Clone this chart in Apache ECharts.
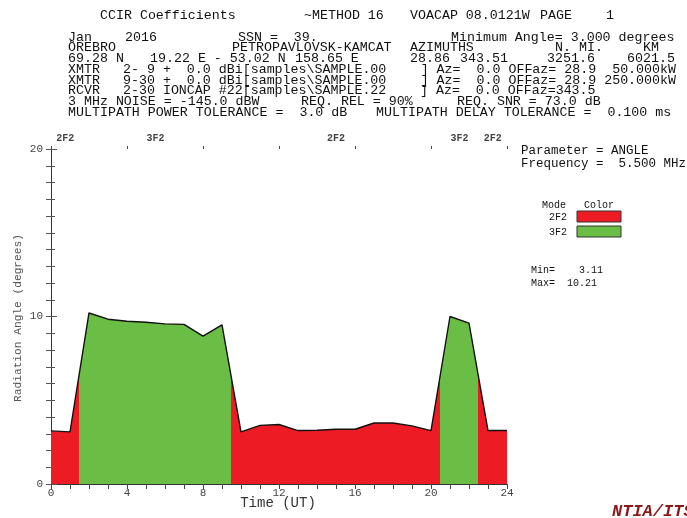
<!DOCTYPE html>
<html>
<head>
<meta charset="utf-8">
<script src="https://cdn.jsdelivr.net/npm/echarts@6/dist/echarts.min.js"></script>
<style>html,body{margin:0;padding:0;background:#fff;}#main{width:687px;height:518px;}</style>
</head>
<body>
<div id="main"></div>
<script>
// ---- data ----
const hours = [0,1,2,3,4,5,6,7,8,9,10,11,12,13,14,15,16,17,18,19,20,21,22,23,24];
const angle = [3.17,3.11,10.21,9.84,9.72,9.66,9.56,9.53,8.83,9.50,3.11,3.50,3.55,3.19,3.21,3.27,3.27,3.64,3.64,3.47,3.19,10.00,9.60,3.19,3.19];
const modeNames = ['2F2','3F2','2F2','3F2','2F2'];
const modeStart = [0,1.5,9.5,20.5,22.5];
const modeEnd = [1.5,9.5,20.5,22.5,24];
const modeColors = {'2F2':'#ed1c24','3F2':'#6abd45'};
const legendModes = ['2F2','3F2'];
const xTicks = [0,4,8,12,16,20,24];
const headerTitle = [['CCIR Coefficients',100],['~METHOD 16',304],['VOACAP 08.0121W',410],['PAGE',540],['1',606]];
// [text, x, align]
const headerLines = [
  [['Jan',68],['2016',125],['SSN =  39.',238],['Minimum Angle= 3.000 degrees',451]],
  [['ÖREBRO',68],['PETROPAVLOVSK-KAMCAT',232],['AZIMUTHS',410],['N. MI.',555],['KM',643]],
  [['69.28 N',68],['19.22 E - 53.02 N',150],['158.65 E',295],['28.86',410],['343.51',460],['3251.6',547],['6021.5',627]],
  [['XMTR',68],['2- 9 +  0.0 dBi[samples\\SAMPLE.00',123],['] Az=  0.0 OFFaz= 28.9  50.000kW',676,'right']],
  [['XMTR',68],['9-30 +  0.0 dBi[samples\\SAMPLE.00',123],['] Az=  0.0 OFFaz= 28.9 250.000kW',676,'right']],
  [['RCVR',68],['2-30 IONCAP #22[samples\\SAMPLE.22',123],['] Az=  0.0 OFFaz=343.5',420]],
  [['3 MHz NOISE = -145.0 dBW',68],['REQ. REL = 90%',301],['REQ. SNR = 73.0 dB',457]],
  [['MULTIPATH POWER TOLERANCE =  3.0 dB',68],['MULTIPATH DELAY TOLERANCE =  0.100 ms',376]]
];
const headerY = [37,47.5,58,69.5,80,90.5,101,112.5];

// ---- build ----
const chart = echarts.init(document.getElementById('main'), null, {renderer:'canvas'});
const seriesData = hours.map((h,i)=>[h, angle[i]]);
const pieces = modeNames.map((m,i)=> i===modeNames.length-1 ? {gte:modeStart[i], lte:modeEnd[i], color:modeColors[m]} : {gte:modeStart[i], lt:modeEnd[i], color:modeColors[m]});
const modeLabelData = modeNames.map((m,i)=>({value:[(modeStart[i]+modeEnd[i])/2, 20], name:m}));

const MONO = '"Liberation Mono", "DejaVu Sans Mono", monospace';
const graphics = [];
headerTitle.forEach(([t,x])=>graphics.push({type:'text', x:x, y:15, style:{text:t, font:'13.3px '+MONO, fill:'#111', verticalAlign:'middle'}}));
headerLines.forEach((segs,li)=>segs.forEach(([t,x,al])=>graphics.push({type:'text', x:x, y:headerY[li], style:{text:t, font:'13.3px '+MONO, fill:'#111', align:al||'left', verticalAlign:'middle'}})));
// right panel
graphics.push({type:'text', left:521, top:144, style:{text:'Parameter = ANGLE\nFrequency =  5.500 MHz', font:'12.5px '+MONO, fill:'#111', lineHeight:13}});
graphics.push({type:'text', left:542, top:200, style:{text:'Mode   Color', font:'10px '+MONO, fill:'#111'}});
legendModes.forEach((m,i)=>{
  graphics.push({type:'text', left:549, top:212.5+i*15, style:{text:m, font:'10px '+MONO, fill:'#111'}});
  graphics.push({type:'rect', shape:{x:577, y:211+i*15, width:44, height:11}, style:{fill:modeColors[m], stroke:'#333', lineWidth:1}});
});
graphics.push({type:'text', left:531, top:264, style:{text:'Min=   '+Math.min(...angle).toFixed(2).padStart(5,' ')+'\nMax=  '+Math.max(...angle).toFixed(2), font:'10px '+MONO, fill:'#111', lineHeight:13}});
graphics.push({type:'text', x:612, y:512, style:{text:'NTIA/ITS', font:'italic bold 17px "Liberation Mono", monospace', fill:'#8b1a1a', verticalAlign:'middle'}});
// axis titles
graphics.push({type:'text', x:18, y:318, rotation:Math.PI/2, style:{text:'Radiation Angle (degrees)', font:'11.2px '+MONO, fill:'#555', align:'center', verticalAlign:'middle'}});
graphics.push({type:'text', x:278, y:503, style:{text:'Time (UT)', font:'14px '+MONO, fill:'#333', align:'center', verticalAlign:'middle'}});

const axisLine = {show:true, lineStyle:{color:'#333', width:1}};
chart.setOption({
  animation:false,
  backgroundColor:'#fff',
  grid:{left:51, right:180, top:149, bottom:34},
  xAxis:[
    {type:'value', position:'bottom', min:0, max:24, interval:4, axisLine, splitLine:{show:false},
     axisTick:{show:true, inside:false, length:5, lineStyle:{color:'#444'}},
     minorTick:{show:true, splitNumber:4, length:5, lineStyle:{color:'#444'}},
     axisLabel:{margin:4, fontFamily:MONO, fontSize:11, color:'#444', customValues:xTicks}},
    {type:'value', position:'top', min:0, max:24, interval:1, axisLine, splitLine:{show:false},
     axisTick:{show:true, inside:true, length:4, lineStyle:{color:'#444'}}, axisLabel:{show:false}},
    {type:'value', position:'top', min:0, max:24, interval:4, axisLine:{show:false}, splitLine:{show:false},
     axisTick:{show:true, inside:false, length:3, lineStyle:{color:'#444'}}, axisLabel:{show:false}}
  ],
  yAxis:[
    {type:'value', position:'left', min:0, max:20, interval:10, axisLine:{show:true, lineStyle:{color:'#555'}}, splitLine:{show:false},
     axisTick:{show:true, length:5, lineStyle:{color:'#555'}},
     minorTick:{show:true, splitNumber:10, length:5, lineStyle:{color:'#555'}},
     axisLabel:{margin:8, fontFamily:MONO, fontSize:11, color:'#444'}},
    {type:'value', position:'right', min:0, max:20, interval:10, axisLine:{show:true, lineStyle:{color:'#333'}}, splitLine:{show:false},
     axisTick:{show:true, length:6, lineStyle:{color:'#555'}},
     minorTick:{show:true, splitNumber:10, length:4, lineStyle:{color:'#555'}},
     axisLabel:{show:false}}
  ],
  visualMap:{type:'piecewise', show:false, dimension:0, seriesIndex:0, pieces},
  series:[
    {type:'line', data:seriesData, symbol:'none', lineStyle:{width:0}, areaStyle:{opacity:1}, z:2},
    {type:'line', data:seriesData, symbol:'none', lineStyle:{width:1.4, color:'#111'}, itemStyle:{color:'#111'}, z:3},
    {type:'scatter', data:modeLabelData, xAxisIndex:1, symbolSize:0, clip:false, silent:true,
     label:{show:true, position:'top', distance:6, formatter:p=>p.name, fontFamily:MONO, fontWeight:'bold', fontSize:10, color:'#111'}}
  ],
  graphic:graphics
});
</script>
</body>
</html>
